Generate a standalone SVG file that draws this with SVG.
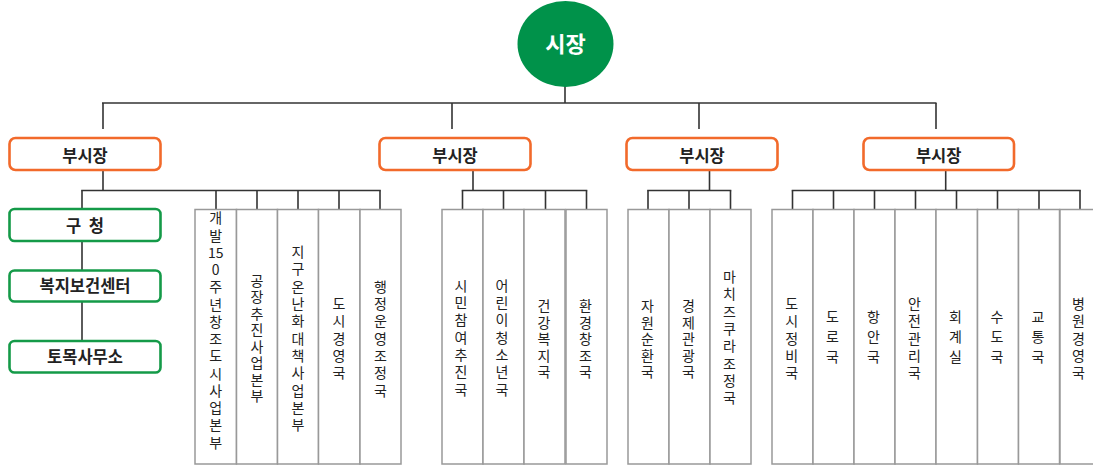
<svg xmlns="http://www.w3.org/2000/svg" width="1093" height="465" viewBox="0 0 1093 465">
<style>
.conn line{stroke:#333;stroke-width:1.6;fill:none}
.dep rect{fill:#fff;stroke:#999;stroke-width:1.5}
.dep text{font-family:"Noto Sans CJK KR","Noto Sans",sans-serif;font-size:14px;fill:#222}
.v{writing-mode:vertical-rl;text-orientation:upright;text-anchor:middle}
.s17{letter-spacing:3.3px}
.s16{letter-spacing:2.5px}
.s20{letter-spacing:6px}
.vs{writing-mode:vertical-rl;text-orientation:upright;text-anchor:start;letter-spacing:3.25px}
.h{text-anchor:middle}
.vp rect{fill:#fff;stroke:#f26a2b;stroke-width:2.6}
.gb rect{fill:#fff;stroke:#149a48;stroke-width:2.6}
.lbl{font-family:"Noto Sans CJK KR","Noto Sans",sans-serif;font-size:16.5px;font-weight:bold;fill:#222;text-anchor:middle}
</style>
<rect width="1093" height="465" fill="#fff"/>
<g class="conn" id="connectors">
<line x1="565" y1="86" x2="565" y2="103"/>
<line x1="102" y1="103" x2="936.5" y2="103"/>
<line x1="103" y1="103" x2="103" y2="129"/>
<line x1="452" y1="103" x2="452" y2="129"/>
<line x1="699" y1="103" x2="699" y2="129"/>
<line x1="936" y1="103" x2="936" y2="129"/>
<line x1="103" y1="170" x2="103" y2="190.5"/>
<line x1="81.2" y1="190.5" x2="380.8" y2="190.5"/>
<line x1="82" y1="190.5" x2="82" y2="208"/>
<line x1="82" y1="241" x2="82" y2="270"/>
<line x1="82" y1="302" x2="82" y2="340"/>
<line x1="216" y1="190.5" x2="216" y2="209.5"/>
<line x1="257" y1="190.5" x2="257" y2="209.5"/>
<line x1="298" y1="190.5" x2="298" y2="209.5"/>
<line x1="339" y1="190.5" x2="339" y2="209.5"/>
<line x1="380" y1="190.5" x2="380" y2="209.5"/>
<line x1="473" y1="170" x2="473" y2="190.5"/>
<line x1="461.7" y1="190.5" x2="587.3" y2="190.5"/>
<line x1="462.5" y1="190.5" x2="462.5" y2="209.5"/>
<line x1="503.5" y1="190.5" x2="503.5" y2="209.5"/>
<line x1="545.5" y1="190.5" x2="545.5" y2="209.5"/>
<line x1="586.5" y1="190.5" x2="586.5" y2="209.5"/>
<line x1="709.5" y1="170" x2="709.5" y2="190.5"/>
<line x1="647.2" y1="190.5" x2="731.3" y2="190.5"/>
<line x1="648" y1="190.5" x2="648" y2="209.5"/>
<line x1="689" y1="190.5" x2="689" y2="209.5"/>
<line x1="730.5" y1="190.5" x2="730.5" y2="209.5"/>
<line x1="945.7" y1="170" x2="945.7" y2="190.5"/>
<line x1="791.7" y1="190.5" x2="1080.8" y2="190.5"/>
<line x1="792.5" y1="190.5" x2="792.5" y2="209.5"/>
<line x1="833.5" y1="190.5" x2="833.5" y2="209.5"/>
<line x1="874.5" y1="190.5" x2="874.5" y2="209.5"/>
<line x1="915.5" y1="190.5" x2="915.5" y2="209.5"/>
<line x1="956.5" y1="190.5" x2="956.5" y2="209.5"/>
<line x1="997.5" y1="190.5" x2="997.5" y2="209.5"/>
<line x1="1039" y1="190.5" x2="1039" y2="209.5"/>
<line x1="1080" y1="190.5" x2="1080" y2="209.5"/>
</g>
<g id="mayor">
<ellipse cx="565.5" cy="44" rx="48" ry="43" fill="#00924a"/>
<text x="565.5" y="52" font-family="'Noto Sans CJK KR','Noto Sans',sans-serif" font-size="22" font-weight="bold" fill="#fff" text-anchor="middle">시장</text>
</g>
<g id="vp1" class="vp"><rect x="9.5" y="138" width="151" height="32" rx="6"/><text class="lbl" x="85" y="161.5">부시장</text></g>
<g id="vp2" class="vp"><rect x="379.5" y="138" width="151" height="32" rx="6"/><text class="lbl" x="455" y="161.5">부시장</text></g>
<g id="vp3" class="vp"><rect x="626.5" y="138" width="151" height="32" rx="6"/><text class="lbl" x="702" y="161.5">부시장</text></g>
<g id="vp4" class="vp"><rect x="863.5" y="138" width="150.5" height="32" rx="6"/><text class="lbl" x="938.7" y="161.5">부시장</text></g>
<g id="ward" class="gb"><rect x="9.5" y="209" width="151" height="32" rx="5"/><text class="lbl" x="85" y="231.5" xml:space="preserve">구  청</text></g>
<g id="welfare" class="gb"><rect x="9.5" y="270.5" width="151" height="31" rx="5"/><text class="lbl" x="85" y="292">복지보건센터</text></g>
<g id="civil" class="gb"><rect x="9.5" y="341" width="151" height="31.5" rx="5"/><text class="lbl" x="85" y="362.5">토목사무소</text></g>
<g id="d1" class="dep"><rect x="195" y="209.5" width="41.5" height="254.5"/>
<text class="vs" x="215.7" y="211">개발</text>
<text class="h" x="215.7" y="257.5">15</text>
<text class="vs" x="215.7" y="262.7">0주년창조도시사업본부</text></g>
<g id="d2" class="dep"><rect x="236.5" y="209.5" width="41" height="254.5"/><text class="v s16" x="257" y="339.5">공장추진사업본부</text></g>
<g id="d3" class="dep"><rect x="277.5" y="209.5" width="41" height="254.5"/><text class="v s17" x="298" y="340">지구온난화대책사업본부</text></g>
<g id="d4" class="dep"><rect x="318.5" y="209.5" width="41.5" height="254.5"/><text class="v s17" x="339" y="340">도시경영국</text></g>
<g id="d5" class="dep"><rect x="360" y="209.5" width="41" height="254.5"/><text class="v s17" x="380.5" y="340">행정운영조정국</text></g>
<g id="d6" class="dep"><rect x="442" y="209.5" width="41" height="254.5"/><text class="v s17" x="461" y="339">시민참여추진국</text></g>
<g id="d7" class="dep"><rect x="483" y="209.5" width="41" height="254.5"/><text class="v s17" x="502" y="339">어린이청소년국</text></g>
<g id="d8" class="dep"><rect x="524" y="209.5" width="41" height="254.5"/><text class="v s16" x="544" y="340">건강복지국</text></g>
<g id="d9" class="dep"><rect x="566" y="209.5" width="41" height="254.5"/><text class="v s16" x="585.5" y="340">환경창조국</text></g>
<g id="d10" class="dep"><rect x="628" y="209.5" width="41" height="254.5"/><text class="v s16" x="647.5" y="340">자원순환국</text></g>
<g id="d11" class="dep"><rect x="669" y="209.5" width="41" height="254.5"/><text class="v s16" x="688.5" y="340">경제관광국</text></g>
<g id="d12" class="dep"><rect x="710" y="209.5" width="41" height="254.5"/><text class="v s17" x="729.5" y="339">마치즈쿠라조정국</text></g>
<g id="d13" class="dep"><rect x="772" y="209.5" width="41" height="254.5"/><text class="v s17" x="791.7" y="340">도시정비국</text></g>
<g id="d14" class="dep"><rect x="813" y="209.5" width="41" height="254.5"/><text class="v s20" x="832.5" y="340">도로국</text></g>
<g id="d15" class="dep"><rect x="854" y="209.5" width="41" height="254.5"/><text class="v s20" x="873.5" y="340">항안국</text></g>
<g id="d16" class="dep"><rect x="895" y="209.5" width="41" height="254.5"/><text class="v s17" x="914.5" y="340">안전관리국</text></g>
<g id="d17" class="dep"><rect x="936" y="209.5" width="41.5" height="254.5"/><text class="v s20" x="955.5" y="340">회계실</text></g>
<g id="d18" class="dep"><rect x="977.5" y="209.5" width="41" height="254.5"/><text class="v s20" x="997" y="340">수도국</text></g>
<g id="d19" class="dep"><rect x="1018.5" y="209.5" width="41" height="254.5"/><text class="v s20" x="1038" y="340">교통국</text></g>
<g id="d20" class="dep"><rect x="1060" y="209.5" width="41" height="254.5"/><text class="v s17" x="1078.5" y="340">병원경영국</text></g>
</svg>
